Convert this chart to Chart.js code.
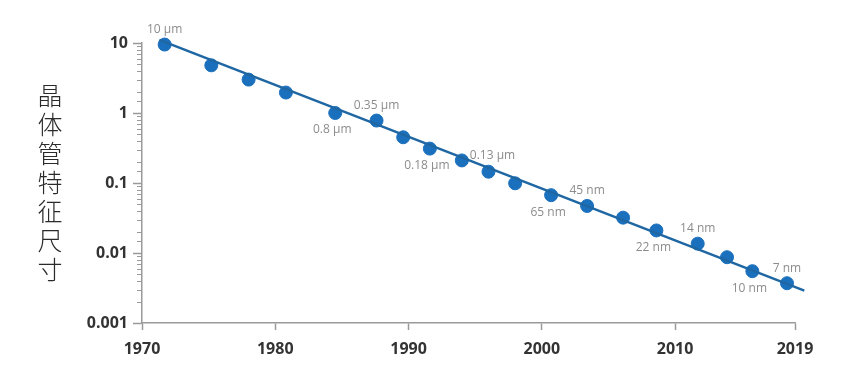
<!DOCTYPE html>
<html>
<head>
<meta charset="utf-8">
<script src="https://cdn.jsdelivr.net/npm/chart.js@4.4.1/dist/chart.umd.min.js"></script>
<style>
  html, body { margin: 0; padding: 0; background: #fff; }
  #wrap { width: 864px; height: 375px; }
</style>
</head>
<body>
<div id="wrap"><canvas id="nodeChart" width="864" height="375"></canvas></div>
<script>
// Process nodes (year, feature size in µm)
const years = [1971.7, 1975.2, 1978.0, 1980.8, 1984.5, 1987.6, 1989.6, 1991.6, 1994.0, 1996.0,
               1998.0, 2000.7, 2003.4, 2006.1, 2008.6, 2011.7, 2013.9, 2015.8, 2018.4];
const featureSize = [9.5, 4.8, 3.0, 1.96, 1.0, 0.78, 0.45, 0.31, 0.21, 0.145,
                     0.099, 0.067, 0.047, 0.032, 0.021, 0.0136, 0.0087, 0.0055, 0.0037];
const nodeLabels = ['10 μm', '', '', '', '0.8 μm', '0.35 μm', '', '0.18 μm', '0.13 μm', '',
                    '', '65 nm', '45 nm', '', '22 nm', '14 nm', '', '10 nm', '7 nm'];
// trend line end points
const trendYears = [1971.3, 2019.7];
const trendSize = [11.1, 0.0029];
const xTicks = [1970, 1980, 1990, 2000, 2010, 2019];
const yTitle = '晶体管特征尺寸';

const AXIS_GREY = '#9a9a9a';

// where each node label sits relative to its point
const placement = {
    '10 μm': 'above', '0.35 μm': 'above', '45 nm': 'above', '14 nm': 'above', '7 nm': 'above',
    '0.8 μm': 'below', '0.18 μm': 'below', '65 nm': 'below', '22 nm': 'below', '10 nm': 'below',
    '0.13 μm': 'right'
};

// labels next to the points
const nodeLabelPlugin = {
    id: 'nodeLabels',
    afterDatasetsDraw(chart) {
        const ctx = chart.ctx;
        const meta = chart.getDatasetMeta(1);
        ctx.save();
        ctx.font = '12px "Open Sans"';
        ctx.fillStyle = '#8c8c8c';
        ctx.textBaseline = 'middle';
        meta.data.forEach((pt, i) => {
            const txt = nodeLabels[i];
            if (!txt) return;
            const where = placement[txt];
            if (where === 'above') {
                ctx.textAlign = 'center';
                ctx.fillText(txt, pt.x, pt.y - 15);
            } else if (where === 'below') {
                ctx.textAlign = 'center';
                ctx.fillText(txt, pt.x - 3, pt.y + 17);
            } else {
                ctx.textAlign = 'left';
                ctx.fillText(txt, pt.x + 8, pt.y - 5);
            }
        });
        ctx.restore();
    }
};

// short minor ticks on the log axis + vertical stacked title
const axisExtrasPlugin = {
    id: 'axisExtras',
    afterDraw(chart) {
        const ctx = chart.ctx;
        const y = chart.scales.y;
        ctx.save();
        ctx.strokeStyle = AXIS_GREY;
        ctx.lineWidth = 1;
        y.ticks.forEach(t => {
            const lg = Math.log10(t.value);
            if (Math.abs(lg - Math.round(lg)) < 1e-6) return;
            const py = Math.round(y.getPixelForValue(t.value)) + 0.5;
            ctx.beginPath();
            ctx.moveTo(y.right - 5, py);
            ctx.lineTo(y.right, py);
            ctx.stroke();
        });
        ctx.font = '300 25px "Noto Sans CJK SC"';
        ctx.fillStyle = '#2a2a2a';
        ctx.textAlign = 'center';
        ctx.textBaseline = 'middle';
        const chars = Array.from(yTitle);
        chars.forEach((c, i) => {
            ctx.fillText(c, 50, 95 + i * 29);
        });
        ctx.restore();
    }
};

const ctx = document.getElementById('nodeChart').getContext('2d');
new Chart(ctx, {
    type: 'scatter',
    data: {
        datasets: [
            {
                label: 'trend',
                data: trendYears.map((x, i) => ({ x: x, y: trendSize[i] })),
                showLine: true,
                borderColor: '#1f67a3',
                borderWidth: 2.5,
                pointRadius: 0,
                clip: false
            },
            {
                label: 'nodes',
                data: years.map((x, i) => ({ x: x, y: featureSize[i] })),
                backgroundColor: '#1b70bd',
                borderColor: '#1b70bd',
                pointRadius: 6.5,
                pointHoverRadius: 6.5,
                clip: false
            }
        ]
    },
    options: {
        responsive: false,
        animation: false,
        layout: { padding: { left: 0, right: 69, top: 43, bottom: 0 } },
        plugins: {
            legend: { display: false },
            tooltip: { enabled: false }
        },
        scales: {
            x: {
                type: 'linear',
                min: 1970,
                max: 2019,
                afterBuildTicks: (scale) => {
                    scale.ticks = xTicks.map(v => ({ value: v }));
                },
                afterFit: (scale) => { scale.height = 52; },
                grid: {
                    drawOnChartArea: false,
                    drawTicks: true,
                    tickLength: 7,
                    tickColor: AXIS_GREY,
                    tickWidth: 1.5
                },
                border: { color: AXIS_GREY, width: 1.5 },
                ticks: {
                    padding: 10,
                    maxRotation: 0,
                    autoSkip: false,
                    color: '#333',
                    font: { family: 'Open Sans', size: 16, weight: 'bold' },
                    callback: (v) => String(v)
                }
            },
            y: {
                type: 'logarithmic',
                min: 0.001,
                max: 10,
                afterFit: (scale) => { scale.width = 142; },
                grid: {
                    drawOnChartArea: false,
                    drawTicks: true,
                    tickLength: 9,
                    tickWidth: 1.5,
                    tickColor: (c) => {
                        const lg = Math.log10(c.tick.value);
                        return Math.abs(lg - Math.round(lg)) < 1e-6 ? AXIS_GREY : 'rgba(0,0,0,0)';
                    }
                },
                border: { color: AXIS_GREY, width: 1.5 },
                ticks: {
                    autoSkip: false,
                    padding: 5,
                    color: '#333',
                    font: { family: 'Open Sans', size: 16, weight: 'bold' },
                    callback: (v) => {
                        const lg = Math.log10(v);
                        if (Math.abs(lg - Math.round(lg)) > 1e-6) return '';
                        return String(Number(v.toPrecision(1)));
                    }
                }
            }
        }
    },
    plugins: [nodeLabelPlugin, axisExtrasPlugin]
});
</script>
</body>
</html>
